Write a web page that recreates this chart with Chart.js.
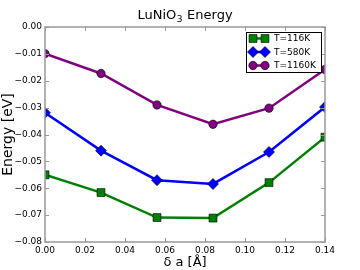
<!DOCTYPE html>
<html>
<head>
<meta charset="utf-8">
<script src="https://cdn.jsdelivr.net/npm/chart.js@4.4.0/dist/chart.umd.min.js"></script>
<style>
  html, body { margin: 0; padding: 0; background: #fff; }
  #wrap { width: 360px; height: 270px; }
</style>
</head>
<body>
<div id="wrap"><canvas id="c"></canvas></div>
<script>
// Données
const deltaA = [0, 0.028, 0.056, 0.084, 0.112, 0.14];
const labels = ['T=116K', 'T=580K', 'T=1160K'];
const e116 = [-0.055, -0.0616, -0.0709, -0.0711, -0.0579, -0.041];
const e580 = [-0.0319, -0.046, -0.057, -0.0584, -0.0465, -0.0298];
const e1160 = [-0.0099, -0.0173, -0.029, -0.0362, -0.0302, -0.0158];
const xTicks = [0, 0.02, 0.04, 0.06, 0.08, 0.10, 0.12, 0.14];
const yTicks = [0, -0.01, -0.02, -0.03, -0.04, -0.05, -0.06, -0.07, -0.08];

const FONT = 'DejaVu Sans';
const AXIS = '#999999';

function pts(ys) {
    return deltaA.map((x, i) => ({ x: x, y: ys[i] }));
}

function fmt(v) {
    const s = Math.abs(v).toFixed(2);
    return v < -1e-9 ? '\u2212' + s : s;
}

function ds(label, ys, color, style, radius) {
    return {
        label: label,
        data: pts(ys),
        borderColor: color,
        backgroundColor: color,
        borderWidth: 2.5,
        pointStyle: style,
        pointRadius: radius,
        pointHoverRadius: radius,
        pointBackgroundColor: color,
        pointBorderColor: '#000',
        pointBorderWidth: 0.6,
        tension: 0,
        clip: 0
    };
}

function drawMarker(ctx, style, r, x, y) {
    if (style === 'rect') {
        const s = r * Math.SQRT1_2;
        ctx.rect(x - s, y - s, 2 * s, 2 * s);
    } else if (style === 'rectRot') {
        ctx.moveTo(x, y - r); ctx.lineTo(x + r, y); ctx.lineTo(x, y + r); ctx.lineTo(x - r, y); ctx.closePath();
    } else {
        ctx.arc(x, y, r, 0, Math.PI * 2);
    }
}

// Titre, cadre, graduations vers l'intérieur, légende
const framePlugin = {
    id: 'frame',
    afterDatasetsDraw(chart) {
        const { ctx, chartArea: a, scales } = chart;
        ctx.save();

        // Titre centré sur la zone du graphique
        const cx = (a.left + a.right) / 2;
        ctx.fillStyle = '#000';
        ctx.textBaseline = 'alphabetic';
        ctx.textAlign = 'left';
        const big = '13px ' + FONT, small = '9px ' + FONT;
        ctx.font = big;
        const w1 = ctx.measureText('LuNiO').width;
        const w3 = ctx.measureText(' Energy').width;
        ctx.font = small;
        const w2 = ctx.measureText('3').width + 1;
        let tx = cx - (w1 + w2 + w3) / 2;
        ctx.font = big;
        ctx.fillText('LuNiO', tx, 19);
        ctx.font = small;
        ctx.fillText('3', tx + w1 + 0.5, 22);
        ctx.font = big;
        ctx.fillText(' Energy', tx + w1 + w2, 19);

        ctx.strokeStyle = AXIS;
        ctx.lineWidth = 1.5;
        ctx.strokeRect(a.left, a.top, a.right - a.left, a.bottom - a.top);
        ctx.lineWidth = 1;
        ctx.beginPath();
        xTicks.forEach(v => {
            const x = Math.round(scales.x.getPixelForValue(v)) + 0.5;
            ctx.moveTo(x, a.bottom); ctx.lineTo(x, a.bottom - 4);
            ctx.moveTo(x, a.top); ctx.lineTo(x, a.top + 4);
        });
        yTicks.forEach(v => {
            const y = Math.round(scales.y.getPixelForValue(v)) + 0.5;
            ctx.moveTo(a.left, y); ctx.lineTo(a.left + 4, y);
            ctx.moveTo(a.right, y); ctx.lineTo(a.right - 4, y);
        });
        ctx.stroke();

        // Légende
        const w = 75, h = 40;
        const lx = a.right - 4 - w, ly = a.top + 5;
        ctx.fillStyle = '#fff';
        ctx.fillRect(lx, ly, w, h);
        ctx.strokeStyle = '#000';
        ctx.lineWidth = 1;
        ctx.strokeRect(lx + 0.5, ly + 0.5, w, h);
        chart.data.datasets.forEach((d, i) => {
            const y = ly + 6.5 + i * 13.5;
            const x1 = lx + 7, x2 = lx + 19;
            ctx.strokeStyle = d.borderColor;
            ctx.lineWidth = 2.5;
            ctx.beginPath(); ctx.moveTo(x1, y); ctx.lineTo(x2, y); ctx.stroke();
            [x1, x2].forEach(px => {
                ctx.fillStyle = d.borderColor;
                ctx.strokeStyle = '#000';
                ctx.lineWidth = 0.6;
                ctx.beginPath();
                drawMarker(ctx, d.pointStyle, d.pointRadius, px, y);
                ctx.fill(); ctx.stroke();
            });
            ctx.fillStyle = '#000';
            ctx.font = '9px ' + FONT;
            ctx.textAlign = 'left';
            ctx.textBaseline = 'middle';
            ctx.fillText(d.label, lx + 28, y + 0.5);
        });
        ctx.restore();
    }
};

const chart = new Chart(document.getElementById('c'), {
    type: 'line',
    data: {
        datasets: [
            ds(labels[0], e116, '#008000', 'rect', 5.6),
            ds(labels[1], e580, '#0000ff', 'rectRot', 5.5),
            ds(labels[2], e1160, '#800080', 'circle', 4.2)
        ]
    },
    options: {
        responsive: true,
        maintainAspectRatio: false,
        animation: false,
        events: [],
        layout: { padding: { left: 0, right: 35, top: 27, bottom: 0 } },
        plugins: {
            legend: { display: false },
            tooltip: { enabled: false },
            title: { display: false }
        },
        scales: {
            x: {
                type: 'linear',
                min: 0, max: 0.14,
                afterBuildTicks: s => { s.ticks = xTicks.map(v => ({ value: v })); },
                afterFit: s => { s.height = 28; },
                grid: { display: false, drawTicks: false },
                border: { display: false },
                ticks: {
                    color: '#000', padding: 3,
                    font: { family: FONT, size: 9 },
                    maxRotation: 0,
                    callback: v => fmt(v)
                },
                title: {
                    display: true, text: '\u03b4 a [\u00c5]', color: '#000',
                    font: { family: FONT, size: 13 }, padding: { top: 0, bottom: 0 }
                }
            },
            y: {
                min: -0.08, max: 0,
                afterBuildTicks: s => { s.ticks = yTicks.map(v => ({ value: v })); },
                afterFit: s => { s.width = 45; },
                grid: { display: false, drawTicks: false },
                border: { display: false },
                ticks: {
                    color: '#000', padding: 3,
                    font: { family: FONT, size: 9 },
                    callback: v => fmt(v)
                },
                title: {
                    display: true, text: 'Energy [eV]', color: '#000',
                    font: { family: FONT, size: 14 }, padding: { top: 0, bottom: 0 }
                }
            }
        }
    },
    plugins: [framePlugin]
});
</script>
</body>
</html>
